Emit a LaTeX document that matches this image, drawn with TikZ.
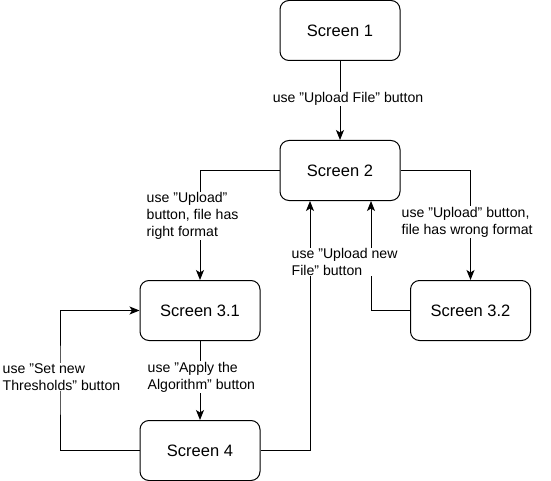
\documentclass[tikz,border=0pt]{standalone}
\usepackage{fontspec}
\setmainfont{Liberation Sans}
\usetikzlibrary{arrows.meta}
\begin{document}
\begin{tikzpicture}[x=1pt,y=-1pt,
  box/.style={draw=black,line width=1pt,rounded corners=9pt,minimum width=120pt,minimum height=60pt,fill=white,font=\fontsize{16.5}{20}\selectfont,inner sep=0pt},
  arr/.style={draw=black,line width=1pt,-{Stealth[length=10pt,width=8pt,inset=2.5pt]}},
  lbl/.style={fill=white,inner sep=0.5pt,font=\fontsize{14.1}{17}\selectfont,align=left}]
\useasboundingbox (0,0) rectangle (551,481);
\node[box] (s1) at (340,30.5) {Screen 1};
\node[box] (s2) at (340,170.5) {Screen 2};
\node[box] (s31) at (200,310.5) {Screen 3.1};
\node[box] (s32) at (470.5,310.5) {Screen 3.2};
\node[box] (s4) at (200,450.5) {Screen 4};
\coordinate (c1) at (60,380);
\draw[arr] (s1) -- (s2);
\draw[arr] (s2.west) -| (s31.north);
\draw[arr] (s2.east) -| (s32.north);
\draw[arr] (s32.west) -| ([xshift=31pt]s2.south);
\draw[arr] (s4.east) -| ([xshift=-30pt]s2.south);
\draw[arr] (s31) -- (s4);
\draw[arr] (s4.west) -| (c1) |- (s31.west);
\node[lbl] (l1) at (348,99) {use "Upload File" button};
\node[lbl,anchor=west] (l2) at (146,216) {use "Upload"\\button, file has\\right format};
\node[lbl,anchor=west] (l3) at (401,222) {use "Upload" button,\\file has wrong format};
\node[lbl,anchor=west] (l4) at (291,262) {use "Upload new\\File" button};
\node[lbl,anchor=west] (l5) at (147,377) {use "Apply the\\Algorithm" button};
\node[lbl,anchor=west] (l6) at (2,377) {use "Set new\\Thresholds" button};
\end{tikzpicture}
\end{document}
